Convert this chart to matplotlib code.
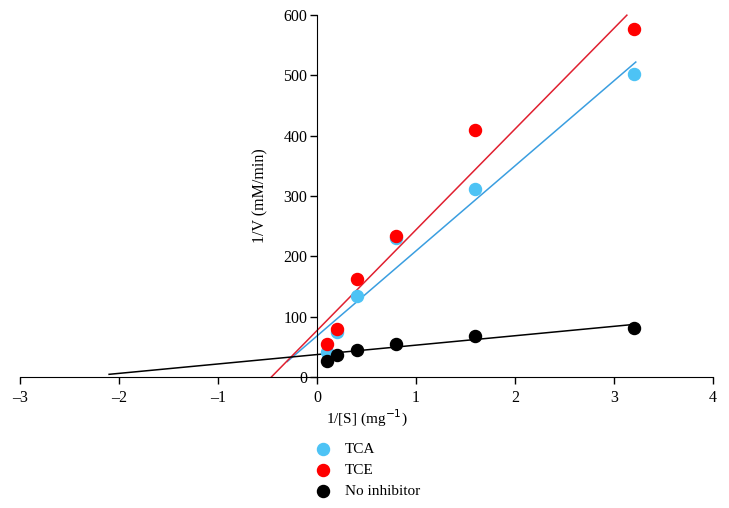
import matplotlib
matplotlib.use("Agg")
import matplotlib.pyplot as plt
import numpy as np

plt.rcParams['font.family'] = ['Liberation Serif', 'DejaVu Serif']

# substrate concentrations (reciprocal)
inv_s = [0.1, 0.2, 0.4, 0.8, 1.6, 3.2]

# 1/V values
tca = [42, 74, 135, 230, 312, 503]
tce = [55, 80, 163, 234, 410, 577]
no_inh = [27, 37, 44, 55, 68, 81]

# trend lines: slope, intercept, x start, x end
tca_fit = (141, 68, -0.30, 3.22)
tce_fit = (167, 77, -0.46, 3.13)
no_fit = (15.6, 37.2, -2.10, 3.20)

c_tca = '#4dc3f5'
c_tce = '#ff0000'
c_no = '#000000'

fig = plt.figure(figsize=(7.29, 5.08), dpi=100)
ax = fig.add_axes([20/729, (508-377)/508, 693/729, 362/508])

for fit, col in [(tca_fit, '#3a9ee0'), (tce_fit, '#e02030'), (no_fit, '#000000')]:
    m, b, x0, x1 = fit
    xs = np.array([x0, x1])
    ax.plot(xs, m*xs + b, color=col, lw=1.1, zorder=2, clip_on=False)

h1 = ax.scatter(inv_s, tca, s=75, color=c_tca, zorder=3, label='TCA')
h2 = ax.scatter(inv_s, tce, s=75, color=c_tce, zorder=3, label='TCE')
h3 = ax.scatter(inv_s, no_inh, s=75, color=c_no, zorder=4, label='No inhibitor')

ax.set_xlim(-3, 4)
ax.set_ylim(0, 600)
ax.spines['top'].set_visible(False)
ax.spines['right'].set_visible(False)
ax.spines['left'].set_position(('data', 0))
ax.spines['left'].set_bounds(0, 600)
ax.spines['bottom'].set_position(('data', 0))
ax.set_xticks(range(-3, 5))
ax.set_xticklabels([str(v).replace('-', '\u2013') for v in range(-3, 5)])
ax.set_yticks(range(0, 601, 100))
ax.tick_params(axis='both', labelsize=11.5, length=5, width=1, direction='out')
ax.tick_params(axis='x', pad=4)
ax.tick_params(axis='y', pad=2)

ax.set_xlabel('1/[S] (mg$^{-1}$)', fontsize=11, labelpad=2)
ax.set_ylabel('1/V (mM/min)', fontsize=11.5)
ax.yaxis.set_label_coords((268-20)/693, 0.5)

fig.legend(handles=[h1, h2, h3], loc='upper left', bbox_to_anchor=(305/729, 1-432/508),
           frameon=False, fontsize=11, handletextpad=0.9, labelspacing=0.45,
           handlelength=1.0, borderpad=0.2)

fig.savefig('out.png', dpi=100)
